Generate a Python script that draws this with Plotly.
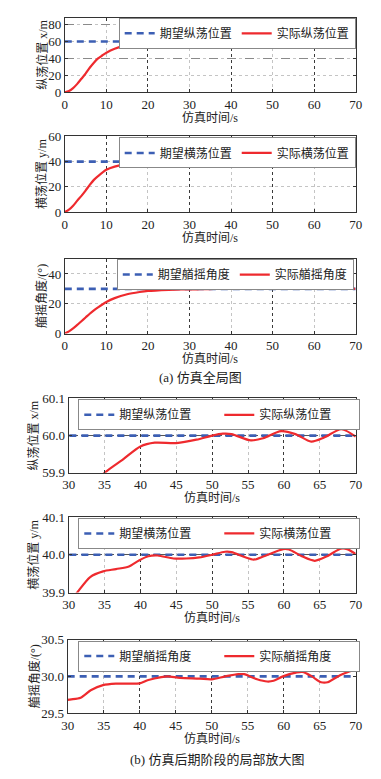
import plotly.graph_objects as go

W, H = 381, 779

# ---------------- data ----------------
t_surge = [0, 1, 2, 3, 4, 5, 6, 7, 8, 9, 10, 12, 14, 16, 18, 20, 22, 25, 28, 30, 32, 35, 37.5,
           40, 42, 45, 47.8, 50, 51.5, 52.7, 55.4, 57.1, 59.6, 61.6, 63.8, 65.6, 68, 70]
surge_actual = [0, 1.5, 5, 10, 16, 22, 29, 35, 40, 43.5, 46.8, 51.5, 54.5, 56.3, 57.5, 58.3, 58.9,
                59.4, 59.7, 59.78, 59.84, 59.9, 59.935, 59.971, 59.981, 59.980, 59.989, 60.0,
                60.005, 60.004, 59.987, 59.993, 60.012, 60.004, 59.984, 59.995, 60.017, 59.997]

t_sway = [0, 1, 2, 3, 4, 5, 6, 7, 8, 10, 12, 15, 18, 20, 25, 28, 30, 31.2, 33, 34.8, 36.6, 38.4,
          39.8, 41.1, 42.4, 44.6, 46.4, 48.2, 50, 51.8, 52.7, 54.5, 55.8, 57.2, 59.9, 60.7, 62.5,
          64.3, 66.1, 67.9, 68.8, 70]
sway_actual = [0, 1.8, 5, 9, 12.8, 17, 21.5, 25.5, 28.5, 33.5, 36, 38.2, 39.2, 39.5, 39.75, 39.82,
               39.87, 39.9, 39.941, 39.956, 39.962, 39.969, 39.985, 39.996, 39.998, 39.990,
               39.990, 39.993, 40.0, 40.008, 40.007, 39.994, 39.987, 39.996, 40.015, 40.014,
               39.996, 39.984, 39.997, 40.016, 40.015, 40.002]

t_yaw = [0, 1, 2, 3, 4, 5, 6, 7, 8, 10, 12, 15, 18, 20, 25, 28, 30, 31.8, 33.2, 34.9, 36.7, 38.5,
         40, 41.2, 43, 43.9, 45.6, 48.3, 50, 51.9, 53.7, 54.5, 56.3, 57.7, 58.6, 59.9, 61.7, 62.6,
         63.9, 65.2, 66.1, 67.9, 69.9]
yaw_actual = [0, 1.5, 3.5, 5.8, 8.3, 10.8, 13.3, 15.6, 17.6, 21.2, 23.8, 26.4, 27.9, 28.6, 29.35,
              29.62, 29.68, 29.71, 29.81, 29.88, 29.90, 29.90, 29.905, 29.95, 29.99, 30.0, 29.98,
              29.97, 29.96, 30.0, 30.03, 30.03, 29.96, 29.93, 29.94, 30.0, 30.05, 30.06, 30.0,
              29.92, 29.92, 30.02, 30.09]

t_desired = [0, 70]
surge_desired = [60, 60]
sway_desired = [40, 40]
yaw_desired = [30, 30]

names_desired = ["期望纵荡位置", "期望横荡位置", "期望艏摇角度"]
names_actual = ["实际纵荡位置", "实际横荡位置", "实际艏摇角度"]
y_titles = ["纵荡位置 x/m", "横荡位置 y/m", "艏摇角度/(°)"]
x_title = "仿真时间/s"
captions = ["(a) 仿真全局图", "(b) 仿真后期阶段的局部放大图"]

# ---------------- layout helpers ----------------
BLUE = "#3c5fb4"
RED = "#ee2a2e"
LIGHT = "#c4c4c4"
DARK = "#3a3a3a"
FONT = "Liberation Serif, Noto Sans CJK SC, serif"


def px_x(v):
    return v / W


def px_y(v):
    return 1 - v / H


# pixel boxes: left, right, top, bottom
boxes = [
    (60, 362, 11, 87),
    (60, 362, 132, 209),
    (60, 362, 257, 333),
    (64, 362, 399, 475),
    (64, 362, 520, 597),
    (63, 362, 645, 720),
]
xtitle_gap = [26, 27, 26, 26, 26, 26]

panels = [
    dict(t=t_surge, a=surge_actual, d=surge_desired, k=0, xr=[0, 70], xd=10, yr=[0, 88], yd=20,
         yf="", gx=(0, 20), gy=(0, 40, "dash"), ly=True),
    dict(t=t_sway, a=sway_actual, d=sway_desired, k=1, xr=[0, 70], xd=10, yr=[0, 60], yd=20,
         yf="", gx=(10, 20), gy=None, ly=True),
    dict(t=t_yaw, a=yaw_actual, d=yaw_desired, k=2, xr=[0, 70], xd=10, yr=[0, 50], yd=20,
         yf="", gx=(10, 20), gy=None, ly=True),
    dict(t=t_surge, a=surge_actual, d=surge_desired, k=0, xr=[30, 70], xd=5, yr=[59.9, 60.1],
         yd=0.1, yf=".1f", gx=(30, 10), gy=(60.0, 1, "dashdot"), ly=False),
    dict(t=t_sway, a=sway_actual, d=sway_desired, k=1, xr=[30, 70], xd=5, yr=[39.9, 40.1],
         yd=0.1, yf=".1f", gx=(30, 10), gy=(40.0, 1, "dashdot"), ly=False),
    dict(t=t_yaw, a=yaw_actual, d=yaw_desired, k=2, xr=[30, 70], xd=5, yr=[29.5, 30.5],
         yd=0.5, yf=".1f", gx=(30, 10), gy=None, ly=False),
]

legend_pos = [
    dict(x=362, y=11, xanchor="right", ew=None),
    dict(x=362, y=133, xanchor="right", ew=None),
    dict(x=360, y=257, xanchor="right", ew=None),
    dict(x=74, y=400, xanchor="left", ew=95),
    dict(x=74, y=521, xanchor="left", ew=95),
    dict(x=74, y=646, xanchor="left", ew=95),
]

ytitle_x = [36, 36, 36, 28, 28, 28]

fig = go.Figure()
layout = dict(width=W, height=H, margin=dict(l=0, r=0, t=0, b=0),
              paper_bgcolor="white", plot_bgcolor="white",
              font=dict(family=FONT, size=13, color="#222"), annotations=[])

for i, p in enumerate(panels):
    n = i + 1
    no = i + 7
    l, r, t, b = boxes[i]
    xs = "" if n == 1 else str(n)
    ys = xs
    dom_x = [px_x(l), px_x(r)]
    dom_y = [px_y(b), px_y(t)]
    layout["xaxis" + xs] = dict(
        domain=dom_x, anchor="y" + xs, range=p["xr"], dtick=p["xd"], tick0=0,
        showgrid=True, gridcolor=LIGHT, griddash="dot", gridwidth=1, zeroline=False,
        showline=True, linecolor="#333", linewidth=1, mirror="ticks",
        ticks="inside", ticklen=3, tickcolor="#333",
        tickfont=dict(family=FONT, size=13, color="#222"))
    layout["yaxis" + ys] = dict(
        domain=dom_y, anchor="x" + xs, range=p["yr"], dtick=p["yd"], tick0=p["yr"][0],
        tickformat=p["yf"], showgrid=p["ly"], gridcolor=LIGHT, griddash="dot", gridwidth=1,
        zeroline=False, showline=True, linecolor="#333", linewidth=1, mirror="ticks",
        ticks="inside", ticklen=3, tickcolor="#333",
        tickfont=dict(family=FONT, size=13, color="#222"))
    # overlay axes carrying only the darker grid lines
    gx0, gxd = p["gx"]
    layout["xaxis" + str(no)] = dict(
        overlaying="x" + xs, anchor="y" + str(no), range=p["xr"], tick0=gx0, dtick=gxd,
        showgrid=True, gridcolor=DARK, griddash="dot", gridwidth=1, zeroline=False,
        showticklabels=False, ticks="", showline=False)
    if p["gy"] is not None:
        gy0, gyd, gdash = p["gy"]
        ygrid = dict(showgrid=True, tick0=gy0, dtick=gyd,
                     gridcolor="#555" if gdash == "dashdot" else "#8a8a8a",
                     griddash=gdash, gridwidth=1)
    else:
        ygrid = dict(showgrid=False)
    layout["yaxis" + str(no)] = dict(
        overlaying="y" + ys, anchor="x" + str(no), range=p["yr"], zeroline=False,
        showticklabels=False, ticks="", showline=False, **ygrid)

    lg = "legend" if n == 1 else "legend" + str(n)
    k = p["k"]
    fig.add_trace(go.Scatter(
        x=t_desired, y=p["d"], mode="lines", name=names_desired[k],
        line=dict(color=BLUE, width=2.6, dash="7px,5px"),
        xaxis="x" + xs, yaxis="y" + ys, legend=lg))
    fig.add_trace(go.Scatter(
        x=p["t"], y=p["a"], mode="lines", name=names_actual[k],
        line=dict(color=RED, width=2.2, shape="spline", smoothing=0.8),
        xaxis="x" + xs, yaxis="y" + ys, legend=lg))
    # empty trace so that the grid-only overlay subplot exists
    fig.add_trace(go.Scatter(x=[], y=[], mode="lines", showlegend=False, hoverinfo="skip",
                             xaxis="x" + str(no), yaxis="y" + str(no)))

    lp = legend_pos[i]
    leg = dict(x=px_x(lp["x"]), y=px_y(lp["y"]), xanchor=lp["xanchor"], yanchor="top",
               orientation="h", bgcolor="white", bordercolor="#888", borderwidth=1,
               font=dict(family=FONT, size=12, color="#222"), itemwidth=30,
               tracegroupgap=0)
    if lp["ew"]:
        leg["entrywidth"] = lp["ew"]
        leg["entrywidthmode"] = "pixels"
    layout[lg] = leg

    layout["annotations"].append(dict(
        text=x_title, x=px_x((l + r) / 2), y=px_y(b + xtitle_gap[i]), xref="paper",
        yref="paper", xanchor="center", yanchor="middle", showarrow=False,
        font=dict(family=FONT, size=12, color="#222")))
    layout["annotations"].append(dict(
        text=y_titles[k], x=px_x(ytitle_x[i]), y=px_y((t + b) / 2), xref="paper", yref="paper",
        xanchor="center", yanchor="middle", showarrow=False, textangle=-90,
        font=dict(family=FONT, size=12, color="#222")))

layout["annotations"].append(dict(
    text=captions[0], x=px_x(201), y=px_y(378), xref="paper", yref="paper",
    xanchor="center", yanchor="middle", showarrow=False,
    font=dict(family=FONT, size=13, color="#222")))
layout["annotations"].append(dict(
    text=captions[1], x=px_x(218), y=px_y(767), xref="paper", yref="paper",
    xanchor="center", yanchor="middle", showarrow=False,
    font=dict(family=FONT, size=13, color="#222")))

fig.update_layout(**layout)
fig.write_html("out.html", config={"displayModeBar": False},
               post_script="document.body.style.margin='0';document.body.style.padding='0';")
